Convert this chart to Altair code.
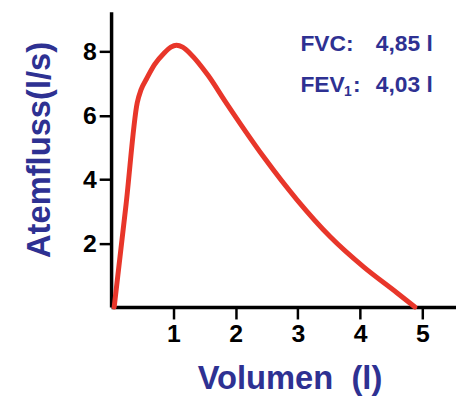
import altair as alt
import pandas as pd

# Flow-volume curve
volume = [0.05, 0.24, 0.42, 0.48, 0.57, 0.70, 0.85, 0.96, 1.05, 1.15, 1.28, 1.56,
          1.83, 2.09, 2.47, 2.99, 3.52, 4.06, 4.59, 4.88]
flow = [0.0, 3.2, 6.4, 6.8, 7.15, 7.6, 7.95, 8.14, 8.2, 8.14, 7.92, 7.25,
        6.45, 5.7, 4.65, 3.35, 2.2, 1.25, 0.45, 0.0]

x_ticks = [1, 2, 3, 4, 5]
y_ticks = [2, 4, 6, 8]

ann_names = ["FVC:", "FEV", "1", ":"]
ann_values = ["4,85 l", "4,03 l"]

BLUE = "#2e3192"
RED = "#e8362a"

df = pd.DataFrame({"Volumen": volume, "Fluss": flow})

W, H = 348, 298

axis_style = dict(
    grid=False, domainColor="black", domainWidth=3.5,
    tickColor="black", tickWidth=2.5, tickSize=12,
    labelFont="Liberation Sans", labelFontWeight="bold", labelFontSize=25,
    labelColor="black", labelPadding=3,
    titleFont="Liberation Sans", titleFontWeight="bold", titleFontSize=33,
    titleColor=BLUE, titleBaseline="alphabetic", titleAlign="center",
)

line = alt.Chart(df).mark_line(
    color=RED, strokeWidth=5, interpolate="monotone", strokeCap="round", strokeJoin="round"
).encode(
    x=alt.X("Volumen:Q",
            scale=alt.Scale(domain=[0, 5.54], nice=False, zero=False),
            axis=alt.Axis(values=x_ticks, title="Volumen\u00a0 (l)",
                          titleX=180, titleY=82, **axis_style)),
    y=alt.Y("Fluss:Q",
            scale=alt.Scale(domain=[0, 9.25], nice=False),
            axis=alt.Axis(values=y_ticks, title="Atemfluss(l/s)",
                          titleX=-62, titleY=139, titleAngle=270, **axis_style)),
    order=alt.Order("Volumen:Q"),
)

def label(txt, x, y, size=23):
    return alt.Chart(pd.DataFrame({"t": [txt]})).mark_text(
        align="left", baseline="alphabetic", font="Liberation Sans", fontWeight="bold",
        fontSize=size, color=BLUE
    ).encode(text="t:N", x=alt.value(x), y=alt.value(y))

texts = [
    label(ann_names[0], 191, 40),
    label(ann_values[0], 267, 40),
    label(ann_names[1], 191, 81),
    label(ann_names[2], 235, 85, 14),
    label(ann_names[3], 244, 81),
    label(ann_values[1], 267, 81),
]

chart = alt.layer(line, *texts).properties(
    width=W, height=H,
    autosize=alt.AutoSizeParams(type="none"),
    padding={"left": 104, "top": 2, "right": 0, "bottom": 88},
).configure_view(stroke=None)

chart.save("out.html", embed_options={"renderer": "svg", "actions": False})
